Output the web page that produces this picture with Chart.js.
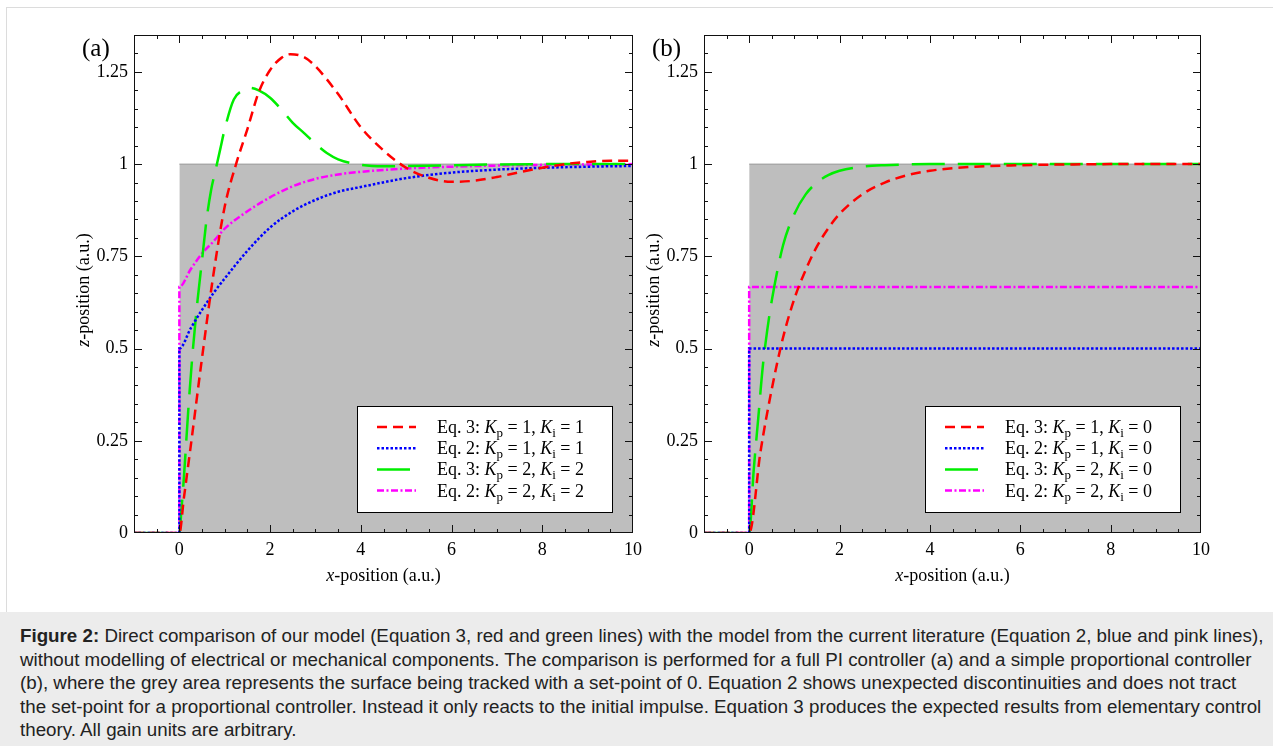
<!DOCTYPE html>
<html>
<head>
<meta charset="utf-8">
<script src="https://cdn.jsdelivr.net/npm/chart.js@4.4.1/dist/chart.umd.min.js"></script>
<style>
    body { margin: 0; background: #fff; width: 1273px; height: 746px; overflow: hidden; position: relative; }
    #frame { position: absolute; left: 6px; top: 7px; width: 1267px; height: 605px; border-left: 1px solid #dcdcdc; border-top: 1px solid #dcdcdc; box-sizing: border-box; }
    #panelA { position: absolute; left: 0; top: 0; }
    #panelB { position: absolute; left: 640px; top: 0; }
    #caption { position: absolute; left: 0; top: 612px; width: 1273px; height: 134px; background: #ececec; color: #222;
        font-family: "Liberation Sans", Arial, sans-serif; font-size: 18.75px; line-height: 23.6px; padding: 12px 0 0 20px; box-sizing: border-box; white-space: nowrap; }
</style>
</head>
<body>
<div id="frame"></div>
<canvas id="panelA" width="660" height="600"></canvas>
<canvas id="panelB" width="633" height="600"></canvas>
<div id="caption">
    <b>Figure 2:</b> Direct comparison of our model (Equation 3, red and green lines) with the model from the current literature (Equation 2, blue and pink lines),<br>
    without modelling of electrical or mechanical components. The comparison is performed for a full PI controller (a) and a simple proportional controller<br>
    (b), where the grey area represents the surface being tracked with a set-point of 0. Equation 2 shows unexpected discontinuities and does not tract<br>
    the set-point for a proportional controller. Instead it only reacts to the initial impulse. Equation 3 produces the expected results from elementary control<br>
    theory. All gain units are arbitrary.
</div>

<script>
// Axis ticks
const xTicks = [0, 2, 4, 6, 8, 10];
const yTicks = [0, 0.25, 0.5, 0.75, 1, 1.25];
const yTickLabels = ['0', '0.25', '0.5', '0.75', '1', '1.25'];

// Grey surface (set-point area)
const surfX = [0, 10];
const surfY = [1, 1];

// Panel (a): full PI controller
const aRedX = [-1, 0, 0.1, 0.25, 0.5, 0.75, 1, 1.25, 1.5, 1.75, 2, 2.25, 2.45, 2.75, 3, 3.5, 4, 4.5, 5, 5.5, 6, 6.5, 7, 7.5, 8, 8.5, 9, 9.5, 10];
const aRedY = [0, 0, 0.095, 0.235, 0.475, 0.70, 0.885, 1.0, 1.095, 1.195, 1.255, 1.288, 1.298, 1.29, 1.265, 1.19, 1.10, 1.037, 0.99, 0.963, 0.952, 0.955, 0.965, 0.978, 0.99, 1.0, 1.006, 1.009, 1.009];
const aBlueX = [-1, 0, 0, 0.25, 0.5, 0.75, 1, 1.5, 2, 2.5, 3, 3.5, 4, 5, 6, 7, 8, 9, 10];
const aBlueY = [0, 0, 0.5, 0.555, 0.605, 0.65, 0.69, 0.765, 0.828, 0.872, 0.903, 0.925, 0.938, 0.962, 0.977, 0.985, 0.99, 0.993, 0.995];
const aGreenX = [-1, 0, 0.05, 0.1, 0.2, 0.3, 0.4, 0.5, 0.6, 0.7, 0.8, 0.9, 1, 1.2, 1.4, 1.55, 1.75, 2, 2.25, 2.5, 2.75, 3, 3.25, 3.5, 4, 4.5, 5, 6, 7, 8, 10];
const aGreenY = [0, 0, 0.07, 0.15, 0.34, 0.50, 0.63, 0.74, 0.85, 0.93, 0.985, 1.04, 1.095, 1.175, 1.20, 1.207, 1.20, 1.18, 1.148, 1.112, 1.084, 1.055, 1.03, 1.013, 0.998, 0.994, 0.995, 0.997, 0.999, 1.0, 1.0];
const aPinkX = [-1, 0, 0, 0.25, 0.5, 0.75, 1, 1.5, 2, 2.5, 3, 3.5, 4, 5, 6, 7, 8, 10];
const aPinkY = [0, 0, 0.667, 0.715, 0.758, 0.79, 0.825, 0.872, 0.91, 0.94, 0.96, 0.972, 0.979, 0.988, 0.993, 0.996, 0.998, 1.0];
const aLabels = ['Eq. 3: K_p = 1, K_i = 1', 'Eq. 2: K_p = 1, K_i = 1', 'Eq. 3: K_p = 2, K_i = 2', 'Eq. 2: K_p = 2, K_i = 2'];

// Panel (b): proportional controller
const bRedX = [-1, 0, 0.25, 0.5, 0.75, 1, 1.25, 1.5, 1.75, 2, 2.5, 3, 3.5, 4, 5, 6, 7, 8, 10];
const bRedY = [0, 0, 0.22, 0.39, 0.53, 0.635, 0.713, 0.777, 0.826, 0.865, 0.918, 0.95, 0.97, 0.982, 0.993, 0.997, 0.999, 1.0, 1.0];
const bBlueX = [-1, 0, 0, 10];
const bBlueY = [0, 0, 0.5, 0.5];
const bGreenX = [-1, 0, 0.1, 0.2, 0.3, 0.4, 0.5, 0.75, 1, 1.25, 1.5, 1.75, 2, 2.5, 3, 4, 5, 10];
const bGreenY = [0, 0, 0.17, 0.31, 0.45, 0.55, 0.63, 0.78, 0.865, 0.918, 0.95, 0.97, 0.982, 0.993, 0.997, 1.0, 1.0, 1.0];
const bPinkX = [-1, 0, 0, 10];
const bPinkY = [0, 0, 0.667, 0.667];
const bLabels = ['Eq. 3: K_p = 1, K_i = 0', 'Eq. 2: K_p = 1, K_i = 0', 'Eq. 3: K_p = 2, K_i = 0', 'Eq. 2: K_p = 2, K_i = 0'];

// Line styles (red, blue, green, pink)
const lineColors = ['#ff0000', '#0000ff', '#00ee00', '#ff00ff'];
const lineDashes = [[10, 6], [2.5, 2], [33, 13], [7, 2.5, 2, 2.5]];

const serif = '"Liberation Serif", "Times New Roman", serif';

function pts(xs, ys) {
    return xs.map((x, i) => ({ x: x, y: ys[i] }));
}

// splits a label so K_p / K_i become an italic K with a subscript
function richParts(label) {
    const parts = [];
    label.split(/(K_[pi])/).forEach(s => {
        if (!s) return;
        if (s.startsWith('K_')) {
            parts.push(['K', 'i']);
            parts.push([s.slice(2), 's']);
        } else {
            parts.push([s, 'n']);
        }
    });
    return parts;
}

function drawParts(ctx, parts, x, y, align, size) {
    const fontOf = s => s === 'i' ? `italic ${size}px ${serif}` : s === 's' ? `${Math.round(size * 0.7)}px ${serif}` : `${size}px ${serif}`;
    let w = 0;
    parts.forEach(([t, s]) => { ctx.font = fontOf(s); w += ctx.measureText(t).width; });
    let cx = align === 'center' ? x - w / 2 : x;
    ctx.textAlign = 'left';
    ctx.textBaseline = 'alphabetic';
    parts.forEach(([t, s]) => {
        ctx.font = fontOf(s);
        ctx.fillText(t, cx, s === 's' ? y + 4 : y);
        cx += ctx.measureText(t).width;
    });
}

// frame, inward ticks, axis titles, panel letter and legend
const decorPlugin = {
    id: 'decor',
    afterDraw(chart, args, opts) {
        const { ctx, chartArea: a, scales: { x, y } } = chart;
        ctx.save();

        // frame
        ctx.strokeStyle = '#111';
        ctx.lineWidth = 1;
        ctx.strokeRect(a.left + 0.5, a.top + 0.5, a.right - a.left - 1, a.bottom - a.top - 1);

        // ticks pointing into the plot
        ctx.beginPath();
        for (let v = -0.5; v < 10; v += 0.5) {
            const p = Math.round(x.getPixelForValue(v)) + 0.5;
            const len = xTicks.includes(v) ? 8 : 4;
            ctx.moveTo(p, a.bottom); ctx.lineTo(p, a.bottom - len);
            ctx.moveTo(p, a.top); ctx.lineTo(p, a.top + len);
        }
        for (let k = 1; k * 0.05 < 1.35; k++) {
            const v = Math.round(k * 5) / 100;
            const p = Math.round(y.getPixelForValue(v)) + 0.5;
            const len = yTicks.includes(v) ? 8 : 4;
            ctx.moveTo(a.left, p); ctx.lineTo(a.left + len, p);
            ctx.moveTo(a.right, p); ctx.lineTo(a.right - len, p);
        }
        ctx.stroke();

        ctx.fillStyle = '#000';
        // x axis title
        drawParts(ctx, [['x', 'i'], ['-position (a.u.)', 'n']], (a.left + a.right) / 2, a.bottom + 48, 'center', 18);
        // y axis title
        ctx.save();
        ctx.translate(a.left - 45, (a.top + a.bottom) / 2 + 6);
        ctx.rotate(-Math.PI / 2);
        drawParts(ctx, [['z', 'i'], ['-position (a.u.)', 'n']], 0, 0, 'center', 18);
        ctx.restore();

        // panel letter
        ctx.font = `25px ${serif}`;
        ctx.textAlign = 'left';
        ctx.textBaseline = 'middle';
        ctx.fillText(opts.letter, a.left - 52, a.top + 14);

        // legend box
        const bw = 255, bh = 106;
        const bx = a.right - 21 - bw, by = a.bottom - 21 - bh;
        ctx.fillStyle = '#fff';
        ctx.fillRect(bx, by, bw, bh);
        ctx.strokeStyle = '#000';
        ctx.strokeRect(bx + 0.5, by + 0.5, bw, bh);
        opts.labels.forEach((lab, i) => {
            const cy = by + 21 + i * 21.2;
            ctx.beginPath();
            ctx.strokeStyle = lineColors[i];
            ctx.lineWidth = 2.5;
            ctx.setLineDash(lineDashes[i]);
            ctx.moveTo(bx + 20, cy);
            ctx.lineTo(bx + 59, cy);
            ctx.stroke();
            ctx.setLineDash([]);
            ctx.fillStyle = '#000';
            drawParts(ctx, richParts(lab), bx + 80, cy + 6, 'left', 18);
        });
        ctx.restore();
    }
};

function makePanel(id, series, labels, letter, padLeft, padRight) {
    const datasets = series.map((s, i) => ({
        data: pts(s[0], s[1]),
        borderColor: lineColors[i],
        borderWidth: 2.5,
        borderDash: lineDashes[i],
        pointRadius: 0,
        fill: false,
        cubicInterpolationMode: 'monotone'
    }));
    datasets.push({
        data: pts(surfX, surfY),
        borderColor: '#9a9a9a',
        borderWidth: 1,
        backgroundColor: '#bebebe',
        pointRadius: 0,
        fill: 'origin'
    });

    return new Chart(document.getElementById(id), {
        type: 'line',
        data: { datasets: datasets },
        plugins: [decorPlugin],
        options: {
            responsive: false,
            animation: false,
            events: [],
            layout: { padding: { left: padLeft, right: padRight, top: 35, bottom: 37 } },
            plugins: {
                legend: { display: false },
                tooltip: { enabled: false },
                decor: { letter: letter, labels: labels }
            },
            scales: {
                x: {
                    type: 'linear',
                    min: -1,
                    max: 10,
                    afterBuildTicks: s => { s.ticks = xTicks.map(v => ({ value: v })); },
                    afterFit: s => { s.height = 30; },
                    grid: { display: false, drawTicks: false },
                    border: { display: false },
                    ticks: { font: { family: serif, size: 18 }, color: '#000', padding: 6, maxRotation: 0, autoSkip: false, callback: v => String(v) }
                },
                y: {
                    type: 'linear',
                    min: 0,
                    max: 1.35,
                    afterBuildTicks: s => { s.ticks = yTicks.map(v => ({ value: v })); },
                    afterFit: s => { s.width = 50; },
                    grid: { display: false, drawTicks: false },
                    border: { display: false },
                    ticks: { font: { family: serif, size: 18 }, color: '#000', padding: 6, autoSkip: false, callback: (v, i) => yTickLabels[i] }
                }
            }
        }
    });
}

makePanel('panelA',
    [[aRedX, aRedY], [aBlueX, aBlueY], [aGreenX, aGreenY], [aPinkX, aPinkY]],
    aLabels, '(a)', 84, 27);
makePanel('panelB',
    [[bRedX, bRedY], [bBlueX, bBlueY], [bGreenX, bGreenY], [bPinkX, bPinkY]],
    bLabels, '(b)', 14, 72);
</script>
</body>
</html>
